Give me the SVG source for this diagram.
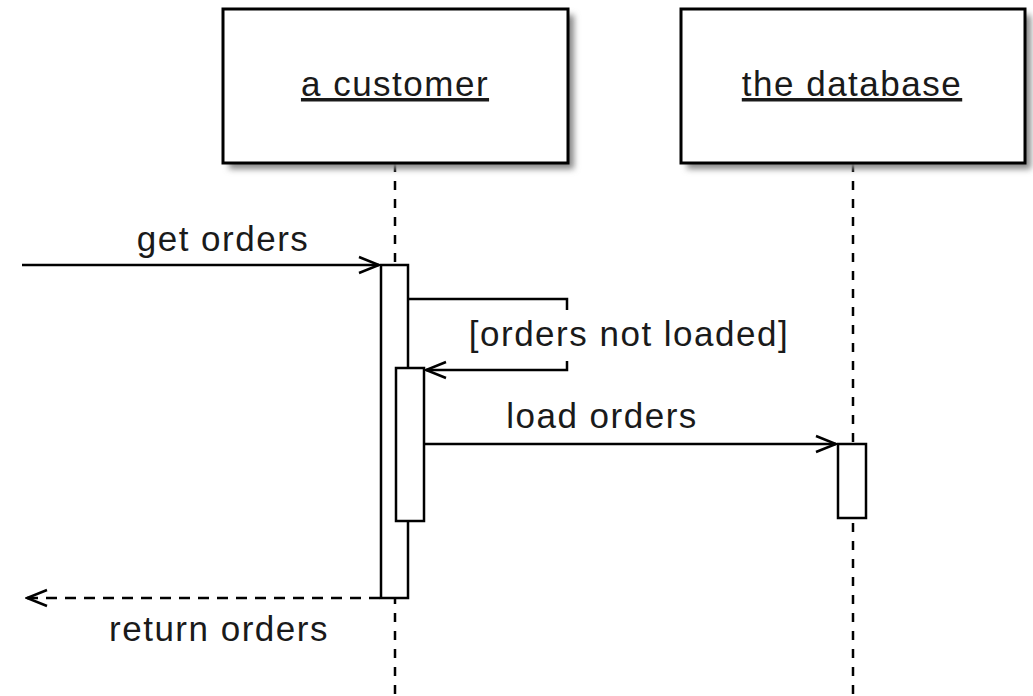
<svg xmlns="http://www.w3.org/2000/svg" width="1033" height="696" viewBox="0 0 1033 696">
<defs>
<filter id="sh" x="-10%" y="-10%" width="130%" height="130%">
<feGaussianBlur stdDeviation="3"/>
</filter>
<marker id="open" markerWidth="24" markerHeight="20" refX="22" refY="10" orient="auto" markerUnits="userSpaceOnUse">
<path d="M2,2 L22,10 L2,18" fill="none" stroke="#000" stroke-width="2.5"/>
</marker>
<style>
.box{fill:#fff;stroke:#000;stroke-width:3}
.shadow{fill:#888;filter:url(#sh)}
.life{stroke:#000;stroke-width:2.5;stroke-dasharray:9 9;fill:none}
.act{fill:#fff;stroke:#000;stroke-width:2.5}
.msg{stroke:#000;stroke-width:2.5;fill:none}
.ret{stroke:#000;stroke-width:2.5;fill:none;stroke-dasharray:11 8}
text{font-family:"Liberation Sans",Arial,sans-serif;font-size:35px;letter-spacing:1.5px;fill:#1a1a1a}
.name{text-decoration:underline;text-anchor:middle}
</style>
</defs>
<rect width="1033" height="696" fill="#fff"/>
<g id="lifelines">
<line class="life" x1="395" y1="163" x2="395" y2="696"/>
<line class="life" x1="853" y1="163" x2="853" y2="696"/>
</g>
<g id="customer">
<rect class="shadow" x="229" y="15" width="345" height="154"/>
<rect class="box" x="223" y="9" width="345" height="154"/>
<text class="name" x="395" y="96">a customer</text>
</g>
<g id="database">
<rect class="shadow" x="687" y="15" width="344" height="154"/>
<rect class="box" x="681" y="9" width="344" height="154"/>
<text class="name" x="852" y="96">the database</text>
</g>
<g id="activations">
<rect class="act" x="381" y="265" width="27" height="333"/>
<rect class="act" x="396" y="368" width="28" height="153"/>
<rect class="act" x="838" y="444" width="28" height="74"/>
</g>
<g id="connectors">
<line class="msg" x1="22" y1="265" x2="379" y2="265" marker-end="url(#open)"/>
<polyline class="msg" points="408,299 567,299 567,310"/>
<polyline class="msg" points="567,361 567,370 426,370" marker-end="url(#open)"/>
<line class="msg" x1="424" y1="444" x2="836" y2="444" marker-end="url(#open)"/>
<line class="ret" x1="380" y1="598" x2="27" y2="598" marker-end="url(#open)"/>
</g>
<g id="labels">
<text x="223" y="251" text-anchor="middle">get orders</text>
<text x="629" y="346" text-anchor="middle">[orders not loaded]</text>
<text x="602" y="428" text-anchor="middle">load orders</text>
<text x="219" y="641" text-anchor="middle">return orders</text>
</g>
</svg>
